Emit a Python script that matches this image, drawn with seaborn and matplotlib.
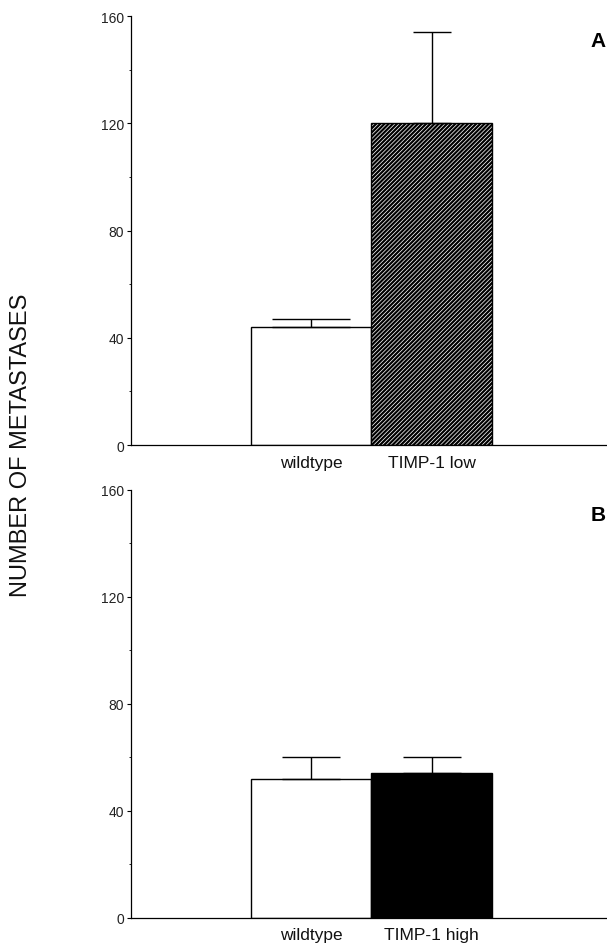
import matplotlib
matplotlib.use("Agg")
import matplotlib.pyplot as plt
import seaborn as sns
from matplotlib.ticker import MultipleLocator

# panel A
cats_a = ["wildtype", "TIMP-1 low"]
means_a = [44, 120]
err_a = [3, 34]
# panel B
cats_b = ["wildtype", "TIMP-1 high"]
means_b = [52, 54]
err_b = [8, 6]

yticks = [0, 40, 80, 120, 160]

sns.set_theme(style="ticks")
plt.rcParams["font.family"] = ["Liberation Sans", "DejaVu Sans"]
plt.rcParams["hatch.linewidth"] = 1.6
plt.rcParams["text.color"] = "black"

fig = plt.figure(figsize=(6.07, 9.53), dpi=100)
ax_a = fig.add_axes([0.216, 0.532, 0.784, 0.450])
ax_b = fig.add_axes([0.216, 0.036, 0.784, 0.449])


def draw_panel(ax, cats, means, errs, styles, caps, letter):
    sns.barplot(x=cats, y=means, ax=ax, width=1.0, color="white",
                edgecolor="black", linewidth=1.0, errorbar=None)
    for patch, (face, hatch) in zip(ax.patches, styles):
        patch.set_facecolor(face)
        patch.set_hatch(hatch)
        patch.set_edgecolor("black")
    for i, (m, e, c) in enumerate(zip(means, errs, caps)):
        ax.errorbar(i, m, yerr=[[0], [e]], fmt="none", ecolor="black",
                    elinewidth=1.0, capsize=c, capthick=1.0, zorder=1)
    ax.set_xlim(-1.5, 2.46)
    ax.set_ylim(0, 160)
    ax.set_yticks(yticks)
    ax.yaxis.set_minor_locator(MultipleLocator(20))
    ax.tick_params(axis="y", which="major", length=3, width=0.8,
                   labelsize=10, colors="black", labelcolor="#222222", pad=2)
    ax.tick_params(axis="y", which="minor", length=1.5, width=0.6,
                   colors="black")
    ax.tick_params(axis="x", length=0, labelsize=12.5, pad=7,
                   labelcolor="#111111")
    sns.despine(ax=ax)
    for side in ("left", "bottom"):
        ax.spines[side].set_linewidth(0.9)
        ax.spines[side].set_color("black")
    ax.text(0.998, 0.965, letter, transform=ax.transAxes, ha="right",
            va="top", fontsize=15, fontweight="bold", color="black")


draw_panel(ax_a, cats_a, means_a, err_a,
           [("white", ""), ("white", "////////")], [28, 14], "A")
draw_panel(ax_b, cats_b, means_b, err_b,
           [("white", ""), ("black", "")], [21, 21], "B")

fig.text(0.035, 0.533, "NUMBER OF METASTASES", rotation=90, ha="center",
         va="center", fontsize=17, color="#111111")

fig.savefig("out.png", dpi=100)
